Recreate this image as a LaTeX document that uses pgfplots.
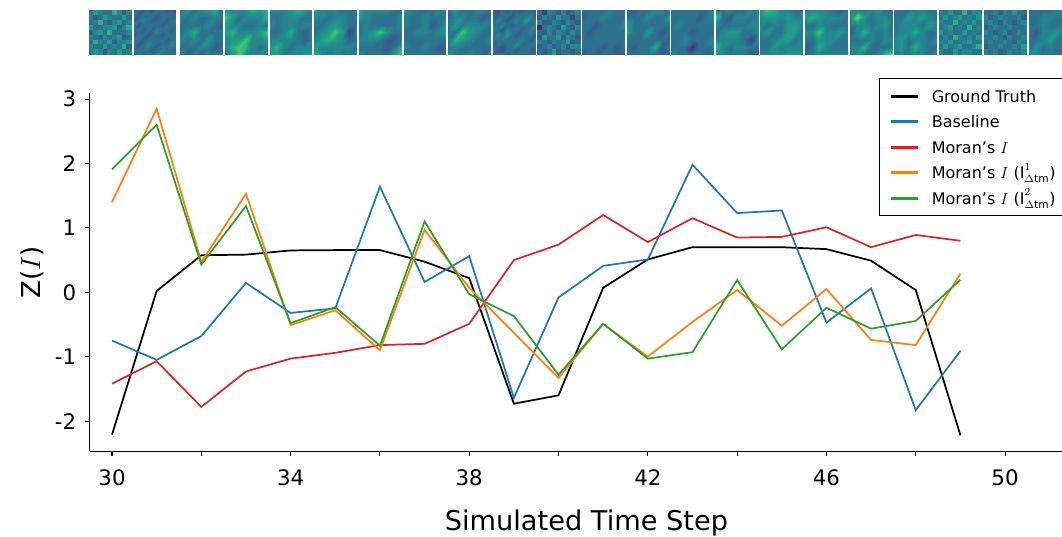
\documentclass[border=0pt]{standalone}
\usepackage{pgfplots}
\pgfplotsset{compat=1.18}
\usepgfplotslibrary{patchplots}
\usepackage{fontspec}
\setmainfont{DejaVu Sans}
\definecolor{tabblue}{HTML}{1F77B4}
\definecolor{tabred}{HTML}{D62728}
\definecolor{legred}{HTML}{F01818}
\definecolor{taborange}{HTML}{FF7F0E}
\definecolor{tabgreen}{HTML}{2CA02C}
\newcommand{\tile}[3]{\addplot[surf,shader=interp,mesh/cols=#2,mesh/rows=#2,point meta=explicit] table[row sep=\\,header=false,x expr={#1+42.2*mod(\coordindex,#2)/(#2-1)},y expr={10+44.7*floor((\coordindex+0.5)/#2)/(#2-1)},meta index=0] {#3};}
\newcommand{\ntile}[3]{\addplot[surf,shader=flat corner,mesh/cols=#2,mesh/rows=#2,point meta=explicit] table[row sep=\\,header=false,x expr={#1+42.2*mod(\coordindex,#2)/(#2-1)},y expr={10+44.7*floor((\coordindex+0.5)/#2)/(#2-1)},meta index=0] {#3};}
\newcommand{\lw}[1]{\makebox[130pt][l]{#1}}
\begin{document}
\begin{tikzpicture}
\path[use as bounding box] (0,0) rectangle (796.5pt,402pt);
% thumbnails: coordinates in pixels
\begin{axis}[at={(0,0)},anchor=south west,scale only axis,width=796.5pt,height=402pt,
  xmin=0,xmax=1062,ymin=0,ymax=536,y dir=reverse,hide axis,
  colormap/viridis,point meta min=-1.41,point meta max=10.35]
\ntile{89}{10}{3\\5\\4\\3\\3\\6\\4\\2\\4\\3\\4\\2\\3\\5\\4\\3\\3\\5\\3\\5\\3\\4\\6\\3\\2\\4\\5\\3\\4\\2\\5\\3\\3\\4\\4\\5\\2\\4\\6\\3\\2\\4\\5\\3\\6\\3\\3\\3\\4\\4\\4\\3\\2\\4\\3\\4\\5\\2\\3\\5\\3\\6\\4\\3\\5\\2\\4\\4\\5\\3\\4\\3\\3\\5\\3\\4\\3\\6\\2\\4\\3\\5\\4\\2\\4\\3\\5\\3\\4\\3\\6\\3\\4\\4\\3\\5\\3\\4\\3\\5\\}
\tile{133.7}{10}{3\\3\\2\\3\\2\\3\\3\\2\\2\\1\\3\\2\\3\\3\\3\\2\\3\\3\\3\\3\\2\\3\\4\\3\\2\\2\\3\\2\\3\\4\\3\\2\\3\\3\\3\\3\\2\\3\\3\\3\\3\\3\\2\\3\\2\\4\\3\\3\\2\\3\\2\\3\\3\\2\\3\\3\\2\\3\\3\\3\\3\\3\\2\\3\\3\\3\\3\\2\\3\\3\\3\\2\\3\\4\\3\\2\\3\\3\\4\\3\\3\\3\\3\\3\\2\\3\\4\\3\\3\\3\\2\\3\\2\\3\\3\\4\\3\\3\\3\\3\\}
\tile{180}{7}{3\\5\\3\\4\\5\\6\\3\\4\\3\\4\\3\\3\\4\\3\\3\\3\\3\\3\\4\\3\\2\\3\\4\\6\\3\\3\\3\\3\\4\\3\\4\\3\\5\\3\\3\\3\\3\\3\\4\\4\\2\\3\\4\\2\\3\\2\\3\\3\\4\\}
\tile{225}{7}{5\\4\\4\\4\\6\\5\\6\\7\\5\\3\\4\\4\\4\\6\\5\\4\\4\\3\\3\\4\\3\\5\\6\\4\\4\\4\\5\\7\\4\\5\\5\\7\\4\\4\\5\\4\\6\\7\\6\\4\\3\\4\\3\\5\\7\\4\\4\\4\\4\\}
\tile{269.7}{7}{4\\4\\4\\5\\6\\5\\4\\3\\3\\4\\4\\4\\3\\3\\4\\3\\4\\4\\3\\4\\4\\3\\3\\4\\6\\3\\2\\4\\4\\4\\4\\4\\3\\2\\4\\5\\6\\4\\3\\4\\4\\4\\5\\5\\3\\4\\4\\5\\5\\}
\tile{314}{7}{5\\4\\4\\4\\3\\3\\4\\4\\4\\3\\4\\4\\3\\3\\3\\3\\4\\5\\4\\3\\3\\3\\4\\5\\7\\5\\1\\3\\4\\5\\6\\5\\4\\2\\3\\5\\4\\4\\4\\4\\4\\3\\6\\4\\3\\4\\3\\3\\5\\}
\tile{359}{7}{6\\4\\4\\4\\4\\3\\3\\5\\4\\3\\3\\3\\3\\4\\3\\4\\3\\3\\3\\3\\4\\3\\4\\5\\7\\5\\3\\3\\4\\4\\4\\3\\2\\2\\3\\3\\3\\3\\3\\2\\3\\6\\4\\3\\3\\3\\3\\5\\7\\}
\tile{403.7}{7}{5\\4\\3\\3\\3\\4\\4\\4\\3\\3\\4\\3\\3\\4\\4\\3\\3\\4\\2\\3\\5\\3\\3\\4\\4\\3\\4\\5\\3\\3\\3\\3\\3\\3\\3\\4\\3\\3\\4\\3\\2\\2\\3\\3\\3\\3\\3\\3\\3\\}
\tile{448.3}{7}{3\\5\\3\\3\\4\\4\\3\\2\\4\\4\\3\\3\\2\\3\\3\\5\\3\\4\\4\\4\\3\\3\\3\\7\\5\\4\\3\\3\\3\\6\\5\\4\\3\\3\\4\\3\\4\\3\\3\\3\\3\\3\\4\\3\\3\\4\\3\\2\\4\\}
\tile{493}{10}{2\\1\\3\\2\\3\\3\\2\\3\\3\\2\\3\\2\\3\\3\\2\\3\\3\\3\\4\\2\\3\\4\\3\\2\\3\\4\\3\\5\\3\\3\\3\\3\\4\\3\\2\\3\\3\\3\\3\\4\\4\\3\\2\\4\\3\\3\\2\\3\\4\\3\\3\\4\\3\\5\\3\\2\\3\\3\\3\\2\\3\\3\\3\\3\\3\\3\\4\\3\\2\\3\\2\\3\\2\\3\\3\\4\\3\\3\\3\\3\\3\\2\\1\\3\\3\\2\\3\\3\\2\\2\\3\\3\\3\\2\\3\\3\\3\\3\\3\\3\\}
\ntile{537.7}{10}{3\\1\\4\\3\\2\\4\\2\\3\\4\\2\\2\\4\\3\\2\\5\\3\\3\\1\\3\\4\\4\\2\\2\\4\\3\\2\\4\\3\\2\\3\\0\\3\\4\\3\\2\\5\\3\\2\\4\\2\\3\\2\\4\\2\\4\\3\\2\\4\\3\\3\\2\\5\\3\\3\\5\\2\\4\\3\\2\\4\\4\\3\\2\\4\\3\\3\\5\\2\\3\\3\\2\\3\\4\\2\\3\\4\\2\\4\\4\\2\\3\\2\\3\\5\\2\\3\\3\\2\\3\\5\\4\\3\\2\\3\\4\\2\\4\\3\\5\\4\\}
\tile{582}{7}{3\\3\\3\\3\\4\\3\\3\\2\\3\\3\\4\\3\\3\\3\\3\\3\\2\\3\\3\\3\\4\\3\\2\\3\\3\\3\\3\\3\\3\\3\\3\\3\\3\\3\\3\\3\\3\\3\\2\\3\\2\\3\\2\\3\\2\\3\\3\\2\\2\\}
\tile{627}{7}{3\\2\\3\\3\\4\\4\\3\\3\\3\\3\\4\\3\\3\\5\\5\\3\\3\\3\\3\\3\\3\\5\\3\\3\\5\\3\\2\\3\\3\\3\\3\\3\\3\\3\\2\\3\\2\\3\\3\\6\\2\\3\\3\\3\\3\\3\\3\\2\\2\\}
\tile{671}{7}{3\\3\\3\\3\\3\\3\\4\\3\\3\\3\\3\\2\\3\\4\\3\\4\\3\\3\\3\\3\\3\\3\\3\\3\\2\\3\\3\\3\\3\\3\\4\\3\\3\\3\\4\\3\\3\\3\\0\\3\\3\\3\\4\\3\\3\\3\\3\\2\\3\\}
\tile{716}{7}{3\\3\\4\\3\\3\\4\\4\\7\\3\\2\\4\\4\\3\\4\\4\\3\\3\\3\\3\\4\\4\\3\\4\\5\\5\\3\\3\\4\\4\\4\\4\\4\\3\\1\\4\\6\\4\\3\\4\\4\\3\\3\\5\\4\\3\\3\\3\\2\\2\\}
\tile{760}{7}{5\\7\\6\\4\\4\\3\\3\\4\\5\\5\\4\\5\\4\\4\\4\\3\\4\\3\\5\\5\\4\\4\\5\\3\\3\\5\\5\\3\\3\\3\\4\\5\\5\\3\\4\\3\\3\\5\\4\\4\\4\\4\\4\\4\\4\\4\\5\\5\\4\\}
\tile{805}{7}{4\\4\\4\\4\\3\\2\\3\\5\\6\\5\\4\\4\\4\\3\\3\\3\\4\\4\\3\\3\\3\\4\\4\\7\\4\\4\\5\\4\\3\\3\\5\\4\\4\\3\\3\\2\\3\\6\\4\\3\\3\\3\\3\\3\\4\\4\\4\\4\\4\\}
\tile{850}{7}{4\\4\\3\\4\\5\\3\\3\\4\\8\\5\\3\\4\\4\\3\\3\\4\\4\\3\\4\\5\\3\\2\\4\\6\\4\\3\\4\\3\\3\\3\\3\\4\\3\\4\\4\\4\\4\\6\\3\\3\\3\\4\\4\\4\\3\\3\\4\\7\\8\\}
\tile{894}{7}{3\\3\\3\\4\\4\\3\\3\\3\\3\\5\\4\\5\\4\\3\\3\\4\\4\\4\\3\\5\\4\\3\\4\\4\\6\\4\\3\\3\\4\\5\\3\\4\\4\\3\\4\\4\\5\\3\\6\\4\\3\\3\\3\\4\\3\\4\\4\\3\\4\\}
\ntile{939}{10}{4\\3\\5\\3\\3\\6\\3\\4\\4\\3\\3\\5\\3\\4\\5\\3\\4\\3\\5\\3\\4\\3\\3\\6\\3\\4\\3\\5\\3\\4\\3\\4\\5\\3\\4\\3\\6\\3\\4\\3\\5\\3\\4\\3\\3\\5\\3\\4\\3\\5\\3\\4\\3\\6\\4\\3\\4\\3\\5\\3\\4\\3\\5\\3\\3\\4\\5\\3\\3\\4\\3\\5\\3\\4\\5\\3\\3\\4\\6\\3\\4\\3\\3\\5\\3\\4\\4\\3\\3\\5\\3\\4\\5\\3\\4\\3\\5\\6\\7\\4\\}
\ntile{984}{10}{3\\3\\4\\2\\4\\3\\5\\3\\3\\2\\4\\2\\3\\4\\3\\3\\3\\4\\2\\4\\3\\4\\3\\2\\4\\3\\2\\3\\4\\3\\2\\3\\4\\3\\3\\4\\3\\3\\3\\2\\4\\3\\2\\3\\4\\2\\3\\4\\3\\4\\3\\3\\4\\3\\2\\4\\3\\3\\4\\3\\3\\4\\3\\3\\4\\3\\2\\4\\3\\3\\2\\3\\3\\4\\3\\3\\4\\3\\5\\3\\4\\3\\4\\2\\3\\4\\3\\3\\4\\3\\3\\4\\3\\3\\5\\3\\3\\4\\3\\4\\}
\tile{1028.5}{7}{3\\3\\3\\3\\4\\5\\5\\3\\3\\4\\4\\3\\3\\3\\3\\3\\4\\3\\3\\3\\3\\3\\2\\4\\4\\5\\3\\3\\3\\3\\4\\5\\3\\4\\3\\3\\5\\3\\4\\3\\3\\3\\4\\4\\3\\3\\3\\3\\3\\}
\end{axis}
% main chart
\begin{axis}[at={(67.125pt,63.525pt)},anchor=south west,scale only axis,
  width=729.4pt,height=268.95pt,
  xmin=29.496,xmax=51.276,ymin=-2.469,ymax=3.099,
  axis lines=left,axis line style={-,black,line width=0.8pt},
  tick align=outside,tick style={black,line width=0.8pt},major tick length=3.4pt,
  xtick={30,32,...,50},xticklabels={30,,34,,38,,42,,46,,50},
  ytick={-2,-1,0,1,2,3},yticklabels={-2,-1,0,1,2,3},
  tick label style={font=\fontsize{16}{16}\selectfont},
  xticklabel style={yshift=-7pt},
  yticklabel style={xshift=-3pt},
  xlabel={Simulated Time Step},
  ylabel={Z($I$)},
  x label style={font=\fontsize{20.4}{21}\selectfont,at={(axis description cs:0.511,-0.2)},anchor=center},
  y label style={font=\fontsize{19.5}{20}\selectfont,at={(axis description cs:-0.0591,0.5)},anchor=center,rotate=0},
  clip=false,
  legend style={at={(axis description cs:0.8113,1.0402)},anchor=north west,draw=black,line width=0.8pt,
    font=\fontsize{12}{13}\selectfont,legend cell align=left,
    inner xsep=9pt,inner ysep=5.7pt,row sep=4.1pt,
    nodes={inner sep=0pt,text height=12pt,text depth=3pt},
    /tikz/every odd column/.append style={column sep=10.5pt}},
  legend image code/.code={\fill[#1] (0,-0.52pt) rectangle (18.75pt,0.52pt);},
  every axis plot/.append style={line width=1.3pt,line join=miter,no marks,forget plot}]
\addlegendimage{black}\addlegendentry{\lw{Ground Truth}}
\addlegendimage{tabblue}\addlegendentry{\lw{Baseline}}
\addlegendimage{legred}\addlegendentry{\lw{Moran's $I$}}
\addlegendimage{taborange}\addlegendentry{\lw{Moran's $I$ ($\mathrm{I}^{1}_{\Delta\mathrm{tm}}$)}}
\addlegendimage{tabgreen}\addlegendentry{\lw{Moran's $I$ ($\mathrm{I}^{2}_{\Delta\mathrm{tm}}$)}}
\addplot[black] coordinates {(30,-2.21)(31,0.02)(32,0.575)(33,0.585)(34,0.65)(35,0.655)(36,0.655)(37,0.475)(38,0.22)(39,-1.73)(40,-1.60)(41,0.07)(42,0.51)(43,0.70)(44,0.70)(45,0.70)(46,0.67)(47,0.49)(48,0.035)(49,-2.22)};
\addplot[tabblue] coordinates {(30,-0.75)(31,-1.05)(32,-0.68)(33,0.145)(34,-0.32)(35,-0.25)(36,1.64)(37,0.16)(38,0.56)(39,-1.64)(40,-0.08)(41,0.41)(42,0.51)(43,1.98)(44,1.23)(45,1.27)(46,-0.47)(47,0.06)(48,-1.83)(49,-0.91)};
\addplot[tabred] coordinates {(30,-1.42)(31,-1.07)(32,-1.78)(33,-1.23)(34,-1.03)(35,-0.94)(36,-0.82)(37,-0.80)(38,-0.49)(39,0.50)(40,0.74)(41,1.20)(42,0.78)(43,1.15)(44,0.85)(45,0.86)(46,1.01)(47,0.70)(48,0.89)(49,0.80)};
\addplot[taborange] coordinates {(30,1.40)(31,2.85)(32,0.47)(33,1.53)(34,-0.51)(35,-0.28)(36,-0.90)(37,0.97)(38,0.07)(39,-0.63)(40,-1.33)(41,-0.49)(42,-1.00)(43,-0.46)(44,0.035)(45,-0.52)(46,0.05)(47,-0.74)(48,-0.82)(49,0.29)};
\addplot[tabgreen] coordinates {(30,1.91)(31,2.60)(32,0.43)(33,1.34)(34,-0.48)(35,-0.23)(36,-0.83)(37,1.10)(38,-0.03)(39,-0.37)(40,-1.28)(41,-0.49)(42,-1.03)(43,-0.93)(44,0.19)(45,-0.885)(46,-0.24)(47,-0.565)(48,-0.445)(49,0.195)};
\end{axis}
\end{tikzpicture}
\end{document}
